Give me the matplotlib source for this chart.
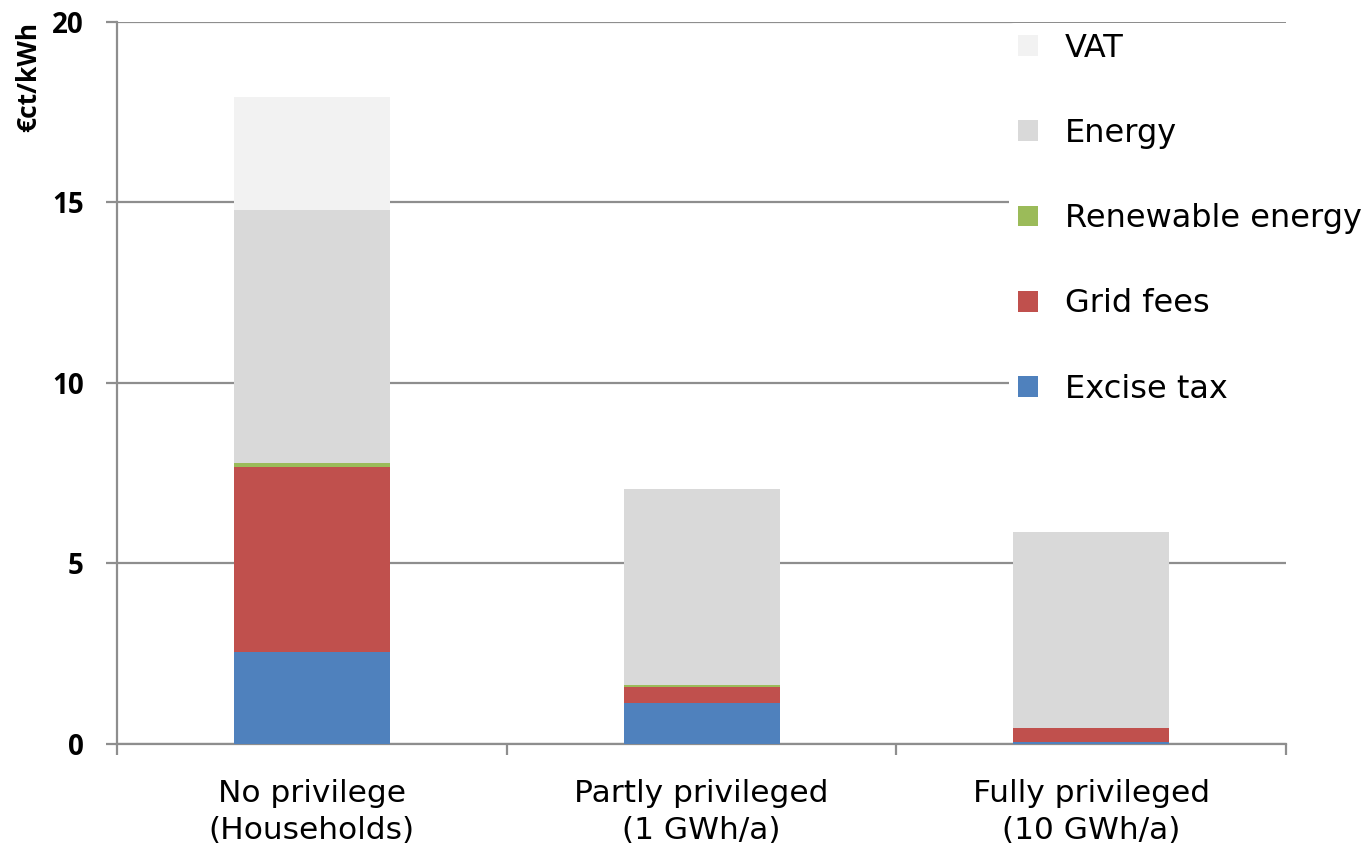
import matplotlib.pyplot as plt
from matplotlib.patches import Patch

# Electricity price components, €ct/kWh
categories = ['No privilege\n(Households)', 'Partly privileged\n(1 GWh/a)', 'Fully privileged\n(10 GWh/a)']
excise_tax = [2.55, 1.13, 0.05]
grid_fees = [5.12, 0.46, 0.38]
renewable = [0.11, 0.04, 0.0]
energy = [7.01, 5.43, 5.44]
vat = [3.13, 0.0, 0.0]

series = [
    ('Excise tax', excise_tax, '#4F81BD'),
    ('Grid fees', grid_fees, '#C0504D'),
    ('Renewable energy', renewable, '#9BBB59'),
    ('Energy', energy, '#D9D9D9'),
    ('VAT', vat, '#F2F2F2'),
]

grey = '#8e8e8e'
bold_font = ['Open Sans', 'DejaVu Sans']

fig = plt.figure(figsize=(13.61, 8.51), dpi=100)
ax = fig.add_axes([0.086, 0.1257, 0.859, 0.849])

x = range(len(categories))
bottom = [0.0] * len(categories)
for name, vals, col in series:
    ax.bar(x, vals, width=0.4, bottom=bottom, color=col, zorder=3)
    bottom = [b + v for b, v in zip(bottom, vals)]

ax.set_xlim(-0.5, 2.5)
ax.set_ylim(0, 20)
ax.set_yticks([0, 5, 10, 15, 20])
ax.yaxis.grid(True, color=grey, linewidth=1.6, zorder=0)
ax.set_axisbelow(True)

for s in ['top', 'right']:
    ax.spines[s].set_visible(False)
for s in ['left', 'bottom']:
    ax.spines[s].set_color(grey)
    ax.spines[s].set_linewidth(1.6)

ax.set_xticks([0, 1, 2])
ax.set_xticklabels(categories, fontsize=22.5, linespacing=1.38)
ax.set_xticks([-0.5, 0.5, 1.5, 2.5], minor=True)
ax.tick_params(axis='x', which='major', length=0, pad=25)
ax.tick_params(axis='x', which='minor', length=8, width=1.6, color=grey)
ax.tick_params(axis='y', length=8, width=1.6, color=grey, pad=16)
for lbl in ax.get_yticklabels():
    lbl.set_fontfamily(bold_font)
    lbl.set_fontweight('bold')
    lbl.set_fontsize(20)

ax.set_ylabel('€ct/kWh', fontsize=19, fontweight='bold', family=bold_font, loc='top')
ax.yaxis.set_label_coords(-0.064, 1.0)

handles = [Patch(facecolor=col, edgecolor='none', label=name) for name, vals, col in series[::-1]]
leg = ax.legend(handles=handles, loc='upper left', bbox_to_anchor=(0.741, 0.973),
                bbox_transform=fig.transFigure, fontsize=23, frameon=True,
                handlelength=0.62, handleheight=0.62, handletextpad=0.85,
                labelspacing=1.7, borderaxespad=0, borderpad=0.3)
leg.get_frame().set_facecolor('white')
leg.get_frame().set_edgecolor('none')
leg.get_frame().set_alpha(1)
leg.set_zorder(5)

fig.savefig('out.png', dpi=100)
